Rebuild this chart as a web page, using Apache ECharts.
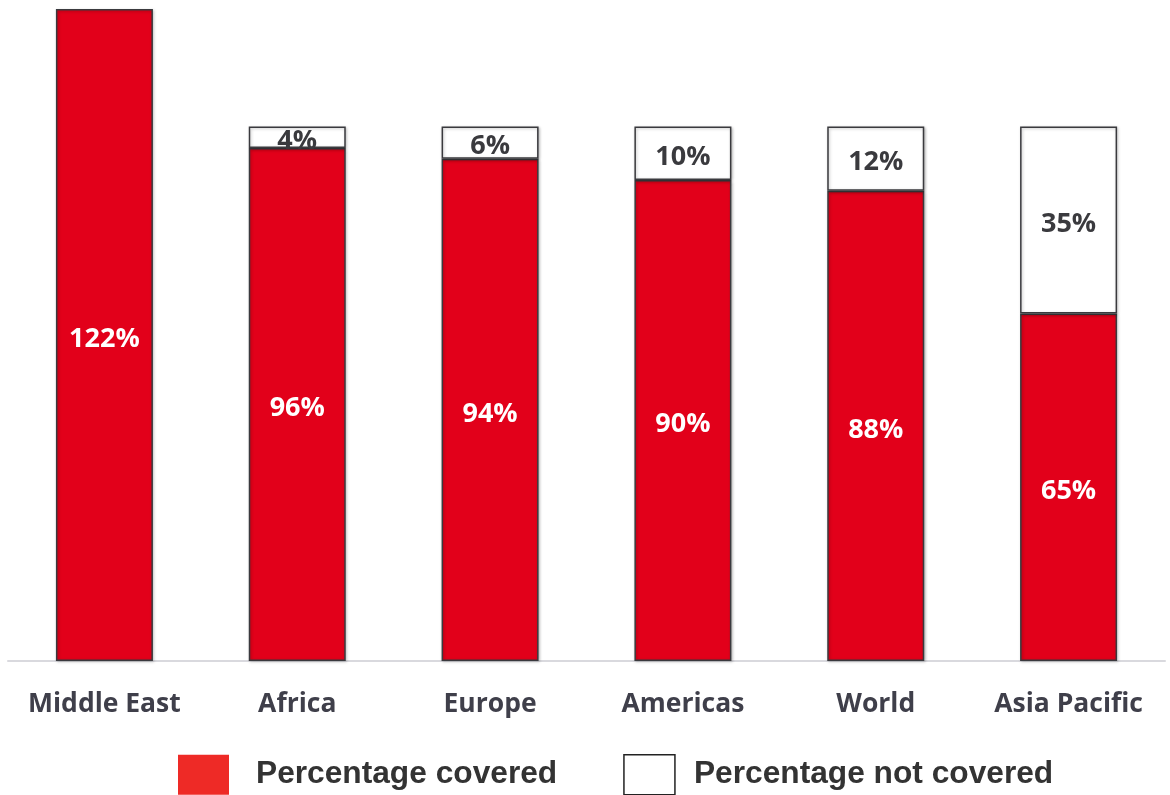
<!DOCTYPE html>
<html>
<head>
<meta charset="utf-8">
<script src="https://cdn.jsdelivr.net/npm/echarts@6/dist/echarts.min.js"></script>
<style>
  html, body { margin: 0; padding: 0; background: #ffffff; }
  #chart { width: 1170px; height: 795px; }
</style>
</head>
<body>
<div id="chart"></div>
<script>
// Regions, ordered by share of the total covered
var regions = ['Middle East', 'Africa', 'Europe', 'Americas', 'World', 'Asia Pacific'];
var covered = [122, 96, 94, 90, 88, 65];
var notCovered = [null, 4, 6, 10, 12, 35];
var seriesNames = ['Percentage covered', 'Percentage not covered'];

var RED = '#e2001a';
var EDGE = '#3a3a3e';
var LABEL_FONT = '"Open Sans", "DejaVu Sans", sans-serif';
var LEGEND_FONT = '"Liberation Sans", Arial, sans-serif';

var chart = echarts.init(document.getElementById('chart'));

var barStyle = function (fill) {
  return {
    color: fill,
    borderColor: EDGE,
    borderWidth: 1.5,
    shadowBlur: 3,
    shadowOffsetX: 1,
    shadowOffsetY: 1,
    shadowColor: 'rgba(0,0,0,0.25)'
  };
};

var valueLabel = function (textColor) {
  return {
    show: true,
    position: 'inside',
    offset: [0, 4],
    formatter: '{c}%',
    color: textColor,
    fontFamily: LABEL_FONT,
    fontWeight: 'bold',
    fontSize: 27
  };
};

var legendText = function (padLeft) {
  return {
    fontFamily: LEGEND_FONT,
    fontWeight: 'bold',
    fontSize: 31.7,
    color: '#333333',
    padding: [0, 0, 0, padLeft]
  };
};

chart.setOption({
  animation: false,
  grid: { left: 8, right: 5, top: 9, bottom: 134 },
  xAxis: {
    type: 'category',
    data: regions,
    axisLine: { show: true, lineStyle: { color: '#d9d9de', width: 2 } },
    axisTick: { show: false },
    axisLabel: {
      interval: 0,
      hideOverlap: false,
      margin: 30,
      color: '#3f3f4a',
      fontFamily: LABEL_FONT,
      fontWeight: 'bold',
      fontSize: 26.5
    }
  },
  yAxis: {
    type: 'value',
    min: 0,
    max: 122,
    show: false,
    splitLine: { show: false }
  },
  legend: {
    top: 749,
    left: 173,
    itemWidth: 51,
    itemHeight: 40,
    itemGap: 66,
    icon: 'rect',
    textStyle: legendText(22),
    data: [
      { name: seriesNames[0], itemStyle: { color: '#ee2a26', borderWidth: 0 }, textStyle: legendText(22) },
      { name: seriesNames[1], itemStyle: { color: '#ffffff', borderColor: '#222', borderWidth: 1.5 }, textStyle: legendText(14) }
    ]
  },
  series: [
    {
      name: seriesNames[0],
      type: 'bar',
      stack: 'total',
      barWidth: 97,
      data: covered,
      itemStyle: barStyle(RED),
      label: valueLabel('#ffffff')
    },
    {
      name: seriesNames[1],
      type: 'bar',
      stack: 'total',
      barWidth: 97,
      data: notCovered,
      itemStyle: barStyle('#ffffff'),
      label: valueLabel('#3a3a3e')
    }
  ]
});
</script>
</body>
</html>
